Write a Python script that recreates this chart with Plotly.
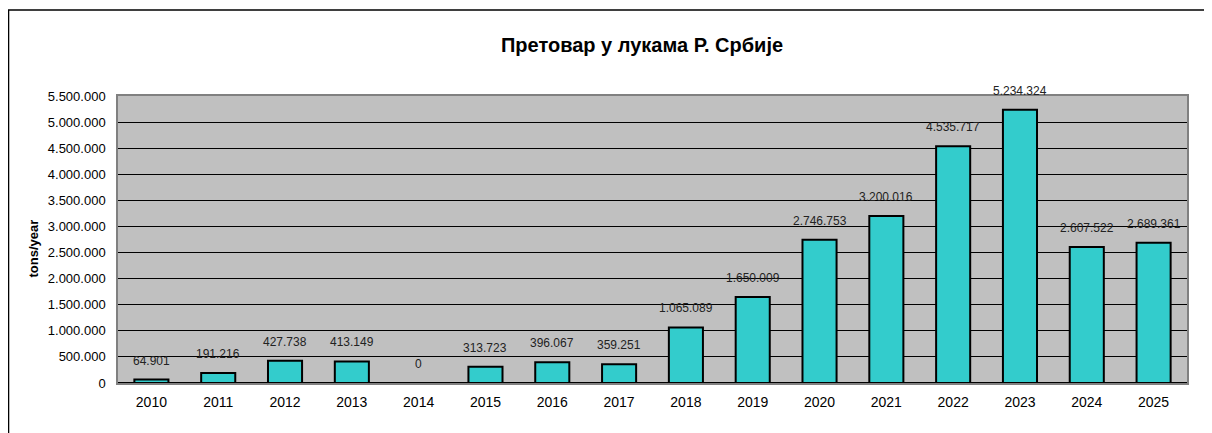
import plotly.graph_objects as go

years = ["2010", "2011", "2012", "2013", "2014", "2015", "2016", "2017",
         "2018", "2019", "2020", "2021", "2022", "2023", "2024", "2025"]
tons = [64901, 191216, 427738, 413149, 0, 313723, 396067, 359251,
        1065089, 1650009, 2746753, 3200016, 4535717, 5234324, 2607522, 2689361]
y_ticks = list(range(0, 5500001, 500000))

fig = go.Figure()

fig.add_trace(go.Bar(
    x=years,
    y=tons,
    marker=dict(color='#33CCCC', line=dict(color='black', width=2)),
    showlegend=False,
))

# data labels sit a bit above the bars, Excel style
# (category axis -> annotation x is the category index)
for i, val in enumerate(tons):
    fig.add_annotation(
        x=i, y=val, text=f"{val:,}".replace(",", "."),
        showarrow=False, yshift=19,
        font=dict(family='Liberation Sans', size=12, color='#222222'),
    )

# y axis title
fig.add_annotation(
    xref='paper', yref='paper', x=-0.088, y=0.47,
    text='<b>tons/year</b>', textangle=-90, showarrow=False,
    font=dict(family='Liberation Sans', size=13, color='black'),
)

# outer chart border
fig.add_shape(type='rect', xref='paper', yref='paper',
              x0=-0.1024, x1=1.2, y0=-0.4, y1=1.2997,
              line=dict(color='black', width=1.5), layer='below')

fig.update_layout(
    title=dict(text='<b>Претовар у лукама Р. Србије</b>', x=0.5266, xref='container',
               y=0.913, yref='container', yanchor='middle', xanchor='center',
               font=dict(family='Liberation Sans', size=20, color='black')),
    separators=',.',
    width=1204,
    height=425,
    margin=dict(l=110, r=25, t=88, b=50, autoexpand=False),
    paper_bgcolor='white',
    plot_bgcolor='#C0C0C0',
    bargap=0.49,
    xaxis=dict(
        type='category', automargin=False, range=[-0.5, 15.5],
        showline=True, linecolor='#808080', mirror=True, linewidth=1.5,
        tickfont=dict(family='Liberation Sans', size=14, color='black'),
        ticks='outside', ticklen=5, tickcolor='rgba(0,0,0,0)', showgrid=False,
    ),
    yaxis=dict(
        automargin=False,
        range=[0, 5500000], tickvals=y_ticks, tickformat=',d',
        showgrid=True, gridcolor='black', gridwidth=1.2,
        showline=True, linecolor='#808080', mirror=True, linewidth=1.5,
        zeroline=True, zerolinecolor='black', zerolinewidth=1.5,
        ticks='outside', ticklen=8, tickcolor='rgba(0,0,0,0)',
        tickfont=dict(family='Liberation Sans', size=13, color='black'),
    ),
)

fig.write_html("out.html")
